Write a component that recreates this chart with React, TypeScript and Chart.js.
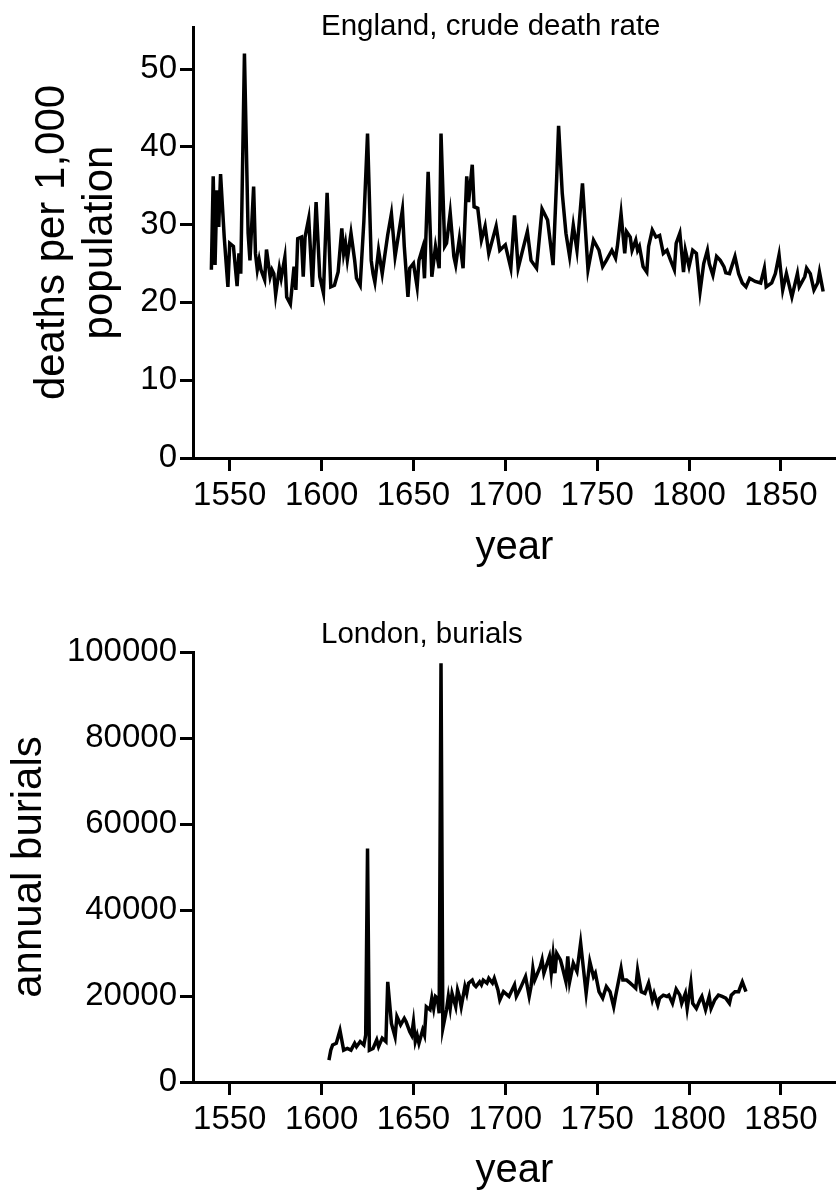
import React, { useEffect, useRef } from 'react';
import { Chart, registerables } from 'chart.js';

Chart.register(...registerables);

const FONT = "'Liberation Sans', Arial, Helvetica, sans-serif";

// England, crude death rate (deaths per 1,000 population)
const englandYears = [
  1540, 1541, 1542, 1543, 1544, 1545, 1547, 1549, 1550, 1552, 1554, 1555, 1556, 1558, 1560, 1561,
  1563, 1564, 1565, 1566, 1567, 1569, 1570, 1572, 1573, 1574, 1575, 1577, 1578, 1580, 1581, 1583,
  1585, 1586, 1587, 1589, 1590, 1591, 1593, 1595, 1597, 1599, 1601, 1603, 1605, 1607, 1609, 1611,
  1612, 1613, 1614, 1616, 1618, 1619, 1621, 1623, 1625, 1627, 1628, 1629, 1631, 1633, 1634, 1636,
  1638, 1640, 1644, 1645, 1647, 1648, 1650, 1652, 1653, 1655, 1656, 1658, 1660, 1662, 1664, 1665,
  1667, 1668, 1670, 1672, 1673, 1675, 1677, 1679, 1680, 1682, 1683, 1685, 1687, 1689, 1691, 1695,
  1697, 1700, 1703, 1705, 1707, 1709, 1712, 1714, 1717, 1720, 1723, 1726, 1728, 1729, 1731, 1733,
  1735, 1737, 1739, 1742, 1745, 1748, 1751, 1753, 1755, 1758, 1760, 1761, 1763, 1765, 1766, 1768,
  1769, 1771, 1772, 1773, 1775, 1777, 1778, 1780, 1782, 1784, 1786, 1788, 1790, 1792, 1793, 1795,
  1797, 1798, 1800, 1802, 1804, 1806, 1808, 1810, 1811, 1813, 1815, 1817, 1819, 1820, 1822, 1825,
  1827, 1829, 1831, 1833, 1836, 1839, 1841, 1842, 1845, 1847, 1849, 1851, 1853, 1856, 1859, 1860,
  1863, 1864, 1866, 1868, 1870, 1871, 1873,
];
const englandRates = [
  24.2, 36.2, 24.8, 34.4, 29.7, 36.5, 28.4, 22.0, 27.6, 27.2, 22.1, 26.3, 23.7, 52.0, 28.9, 25.4,
  34.9, 26.3, 24.2, 25.5, 24.2, 22.9, 26.8, 23.3, 24.2, 23.7, 21.0, 24.4, 23.1, 25.8, 20.7, 19.8,
  24.6, 21.6, 28.2, 28.4, 23.3, 28.4, 30.8, 22.0, 32.9, 23.3, 21.2, 34.1, 22.0, 22.2, 23.9, 29.5,
  26.3, 27.6, 25.5, 28.9, 25.4, 23.1, 22.2, 30.4, 41.7, 25.4, 23.7, 22.6, 26.7, 23.7, 25.4, 28.7,
  31.4, 25.9, 31.9, 27.2, 20.7, 24.4, 25.0, 22.0, 25.4, 27.0, 23.1, 36.8, 23.3, 27.2, 24.4, 41.7,
  27.2, 27.6, 31.5, 25.9, 24.8, 28.2, 24.4, 36.2, 32.9, 37.7, 32.3, 32.1, 28.0, 29.8, 26.3, 29.8,
  26.7, 27.4, 24.4, 31.2, 24.4, 26.3, 29.1, 25.4, 24.4, 32.0, 30.6, 24.8, 36.2, 42.7, 34.0, 28.9,
  25.9, 29.9, 26.7, 35.3, 24.2, 28.0, 26.7, 24.6, 25.4, 26.7, 25.7, 27.2, 31.4, 26.3, 29.1, 28.4,
  26.7, 28.0, 26.7, 27.2, 24.6, 23.9, 27.2, 29.3, 28.4, 28.6, 26.3, 26.7, 25.4, 24.2, 27.6, 28.9,
  23.9, 26.7, 24.6, 26.7, 26.3, 21.4, 25.0, 26.7, 25.0, 23.5, 25.9, 25.4, 24.6, 23.8, 23.7, 25.9,
  23.7, 22.5, 22.0, 23.1, 22.7, 22.5, 24.4, 22.0, 22.5, 23.7, 26.1, 21.6, 23.7, 20.7, 23.7, 22.0,
  23.3, 24.4, 23.7, 21.6, 22.5, 23.9, 21.4,
];

// London, annual burials
const londonYears = [
  1604, 1605, 1606, 1608, 1610, 1612, 1614, 1616, 1618, 1619, 1621, 1623, 1624, 1625, 1626, 1628,
  1630, 1631, 1633, 1635, 1636, 1638, 1640, 1641, 1643, 1645, 1646, 1648, 1649, 1650, 1651, 1652,
  1653, 1655, 1656, 1657, 1659, 1660, 1661, 1662, 1663, 1664, 1665, 1666, 1668, 1669, 1670, 1671,
  1673, 1674, 1675, 1676, 1678, 1679, 1680, 1682, 1683, 1684, 1686, 1687, 1688, 1690, 1691, 1693,
  1694, 1696, 1697, 1699, 1702, 1705, 1706, 1708, 1711, 1713, 1714, 1715, 1716, 1719, 1720, 1721,
  1724, 1725, 1726, 1727, 1728, 1730, 1731, 1733, 1734, 1735, 1737, 1739, 1741, 1742, 1744, 1746,
  1748, 1749, 1751, 1753, 1755, 1757, 1759, 1760, 1763, 1764, 1766, 1768, 1770, 1771, 1772, 1774,
  1776, 1778, 1780, 1781, 1783, 1784, 1786, 1788, 1789, 1791, 1793, 1795, 1796, 1798, 1799, 1801,
  1802, 1804, 1806, 1807, 1809, 1811, 1812, 1814, 1816, 1818, 1820, 1822, 1823, 1825, 1827, 1828,
  1829, 1831,
];
const londonBurials = [
  5100, 7400, 8600, 9000, 12000, 7400, 7800, 7400, 9000, 8200, 9400, 8600, 10900, 54300, 7400, 7800,
  9800, 8200, 10200, 9400, 23300, 13600, 10500, 15200, 13300, 14800, 14000, 11700, 10900, 14000, 9400, 10900,
  9000, 12100, 10900, 17500, 16800, 19500, 17100, 19900, 19500, 16000, 97400, 12500, 16800, 19900, 17100, 20600,
  17500, 21400, 19900, 17500, 22200, 20600, 23000, 23700, 22600, 22200, 23300, 22600, 23700, 23000, 24100, 23000,
  24100, 21400, 19100, 21000, 19900, 22600, 19900, 21600, 24500, 19900, 22200, 26400, 23700, 26800, 28400, 25300,
  29200, 25300, 29500, 25300, 29900, 28400, 26800, 23300, 29200, 23300, 27600, 25700, 32300, 28400, 20600, 28000,
  24500, 25300, 21000, 19500, 22200, 21000, 17500, 19900, 26400, 23700, 23700, 23000, 22200, 21800, 26000, 21000,
  20600, 23000, 19100, 20600, 17900, 19500, 20200, 19900, 20200, 18300, 21600, 20200, 18300, 20600, 17100, 23000,
  18300, 17100, 19100, 19900, 16800, 19900, 17100, 19100, 20200, 19900, 19500, 18300, 20200, 21000, 21000, 22200,
  23300, 21000,
];

const xTicks = [1550, 1600, 1650, 1700, 1750, 1800, 1850];
const englandYTicks = [0, 10, 20, 30, 40, 50];
const londonYTicks = [0, 20000, 40000, 60000, 80000, 100000];

type PanelProps = {
  width: number;
  height: number;
  years: number[];
  values: number[];
  yTicks: number[];
  yMax: number;
  title: string;
  titleY: number;
  xTitleY: number;
  yTitle: string | string[];
  yTitlePad: number;
  areaTop: number;
  areaBottom: number;
};

function Panel(p: PanelProps) {
  const ref = useRef<HTMLCanvasElement | null>(null);
  useEffect(() => {
    if (!ref.current) return;
    const textPlugin = {
      id: 'panelText',
      afterDraw(chart: any) {
        const ctx = chart.ctx as CanvasRenderingContext2D;
        const area = chart.chartArea;
        ctx.save();
        ctx.fillStyle = '#000';
        ctx.font = `29.5px ${FONT}`;
        ctx.textAlign = 'left';
        ctx.textBaseline = 'alphabetic';
        ctx.fillText(p.title, 321, p.titleY);
        ctx.font = `40px ${FONT}`;
        ctx.textAlign = 'center';
        ctx.textBaseline = 'middle';
        ctx.fillText('year', (area.left + area.right) / 2, p.xTitleY);
        ctx.restore();
      },
    };
    const chart = new Chart(ref.current, {
      type: 'line',
      data: {
        datasets: [
          {
            data: p.years.map((x, i) => ({ x, y: p.values[i] })),
            borderColor: '#000',
            borderWidth: 3.5,
            pointRadius: 0,
            fill: false,
            tension: 0,
          },
        ],
      },
      options: {
        animation: false,
        responsive: false,
        events: [],
        layout: { padding: { top: p.areaTop, left: 0, right: 0, bottom: 0 } },
        plugins: {
          legend: { display: false },
          tooltip: { enabled: false },
          title: { display: false },
        },
        scales: {
          x: {
            type: 'linear',
            min: 1530,
            max: 1880,
            afterBuildTicks: (s: any) => {
              s.ticks = xTicks.map((v) => ({ value: v }));
            },
            afterFit: (s: any) => {
              s.height = p.height - p.areaBottom;
            },
            ticks: {
              callback: (v: any) => String(v),
              font: { family: FONT, size: 33 },
              color: '#000',
              padding: 5,
              maxRotation: 0,
              autoSkip: false,
            },
            grid: {
              drawOnChartArea: false,
              drawTicks: true,
              tickLength: 13,
              tickWidth: 3,
              tickColor: '#000',
            },
            border: { display: true, color: '#000', width: 3 },
            title: { display: false },
          },
          y: {
            type: 'linear',
            min: 0,
            max: p.yMax,
            afterBuildTicks: (s: any) => {
              s.ticks = p.yTicks.map((v) => ({ value: v }));
            },
            afterFit: (s: any) => {
              s.width = 193;
            },
            ticks: {
              callback: (v: any) => String(v),
              font: { family: FONT, size: 33 },
              color: '#000',
              padding: 3,
              autoSkip: false,
            },
            grid: {
              drawOnChartArea: false,
              drawTicks: true,
              tickLength: 13,
              tickWidth: 3,
              tickColor: '#000',
            },
            border: { display: true, color: '#000', width: 3 },
            title: {
              display: true,
              text: p.yTitle,
              font: { family: FONT, size: 42, lineHeight: 1.15 },
              color: '#000',
              padding: { top: p.yTitlePad, bottom: 0 },
            },
          },
        },
      } as any,
      plugins: [textPlugin],
    });
    return () => chart.destroy();
  }, []);
  return (
    <canvas
      ref={ref}
      width={p.width}
      height={p.height}
      style={{ display: 'block', width: p.width, height: p.height }}
    />
  );
}

export default function App() {
  return (
    <div
      style={{
        position: 'absolute',
        left: 0,
        top: 0,
        width: 836,
        height: 1195,
        background: '#fff',
        overflow: 'hidden',
      }}
    >
      <Panel
        width={836}
        height={597}
        years={englandYears}
        values={englandRates}
        yTicks={englandYTicks}
        yMax={55.4}
        title="England, crude death rate"
        titleY={35}
        xTitleY={548}
        yTitle={['deaths per 1,000', 'population']}
        yTitlePad={28}
        areaTop={27}
        areaBottom={458}
      />
      <Panel
        width={836}
        height={598}
        years={londonYears}
        values={londonBurials}
        yTicks={londonYTicks}
        yMax={100000}
        title="London, burials"
        titleY={46}
        xTitleY={574}
        yTitle="annual burials"
        yTitlePad={5}
        areaTop={55}
        areaBottom={485}
      />
    </div>
  );
}
